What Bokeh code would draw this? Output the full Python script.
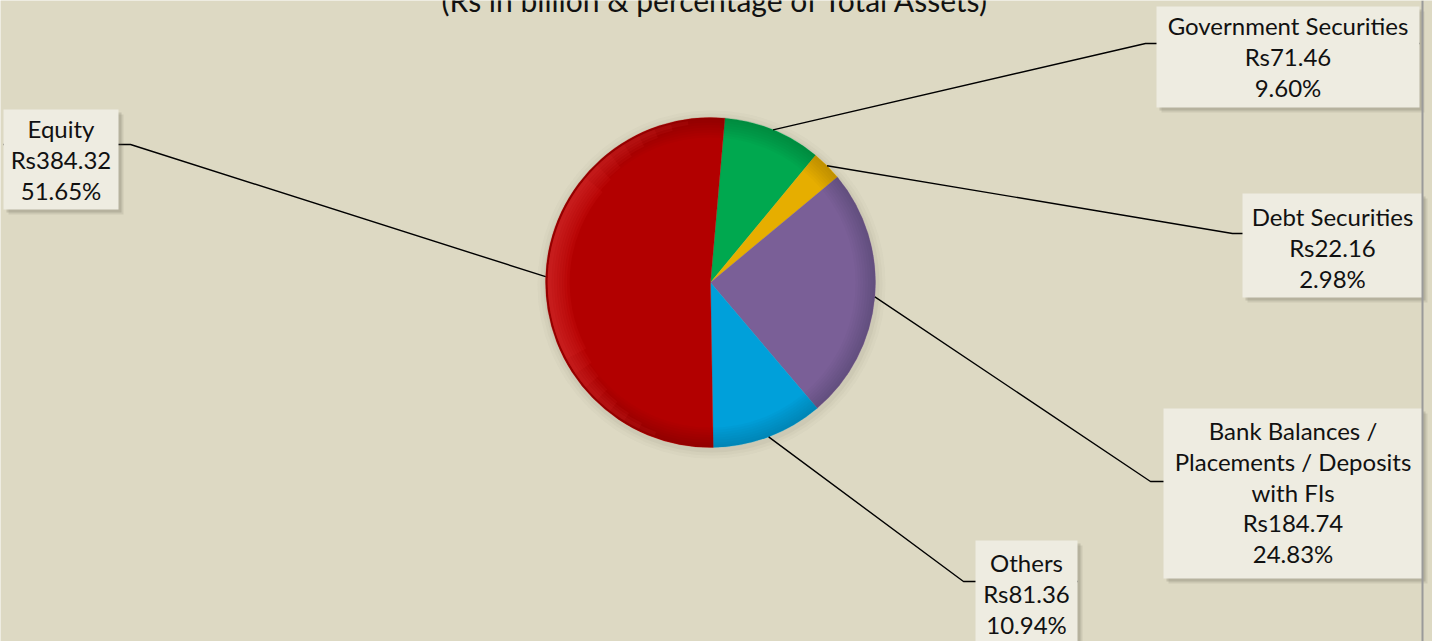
import numpy as np
from bokeh.plotting import figure
from bokeh.models import Range1d
from bokeh.embed import file_html
from bokeh.resources import INLINE
from bokeh.core.properties import value

# ---------------- data ----------------
title_text = "(Rs in billion & percentage of Total Assets)"
categories = ["Equity", "Government Securities", "Debt Securities",
              "Bank Balances / Placements / Deposits with FIs", "Others"]
label_lines = [["Equity"], ["Government Securities"], ["Debt Securities"],
               ["Bank Balances /", "Placements / Deposits", "with FIs"], ["Others"]]
amounts = [384.32, 71.46, 22.16, 184.74, 81.36]      # Rs billion
percents = [51.65, 9.60, 2.98, 24.83, 10.94]          # % of total assets
colors = ["#B20000", "#00A84F", "#E6AE00", "#7A5F97", "#00A0DA"]
draw_order = [1, 2, 3, 4, 0]   # clockwise from the top, starting with Government Securities

# ---------------- layout (reference pixel coords, y downward) ----------------
W, H = 1432, 641
FONT = "Lato"
FS = "24px"
LINE_STEP = 30.8
cx, cy, R = 710, 282, 165
start_cw = 5.0   # degrees clockwise from 12 o'clock

# box: left, right, top, bottom, first text line y, knee x, knee y
boxes = {
    0: (3, 118, 109, 209, 128, 130, 144),
    1: (1156, 1419, 6, 107, 25, 1145, 43),
    2: (1242, 1422, 193, 297, 216, 1232, 233),
    3: (1163, 1422, 408, 578, 430, 1150, 481),
    4: (975, 1077, 540, 660, 562, 963, 581),
}

def Y(y):
    return H - y

p = figure(width=W, height=H, x_range=Range1d(0, W), y_range=Range1d(0, H),
           output_backend="svg", toolbar_location=None, min_border=0)
p.axis.visible = False
p.grid.visible = False
p.outline_line_color = None
p.background_fill_color = "#DDD9C3"
p.border_fill_color = "#DDD9C3"

# ---------------- pie ----------------
vals = np.array(amounts, dtype=float)
frac = vals / vals.sum()
c0 = {}
c1 = {}
acc = start_cw
for i in draw_order:
    c0[i] = acc
    acc += frac[i] * 360.0
    c1[i] = acc

# soft shadow around the pie
for k, a in [(9, 0.03), (6, 0.04), (3, 0.06)]:
    p.circle(x=[cx + 1], y=[Y(cy + 2)], radius=R + k, fill_color="#6d6650",
             fill_alpha=a, line_color=None)

for i in draw_order:
    sa = np.radians(90 - c1[i])
    ea = np.radians(90 - c0[i])
    p.wedge(x=[cx], y=[Y(cy)], radius=R, start_angle=sa, end_angle=ea,
            fill_color=colors[i], line_color=colors[i], line_alpha=0.5, line_width=0.5)

# rim darkening (bevel), full ring so there are no angular seams
for k in range(8):
    p.annulus(x=[cx], y=[Y(cy)], inner_radius=R - 2.5 * k - 2.5, outer_radius=R,
              fill_color="black", fill_alpha=0.018, line_color=None)
# bright red highlight band on the left rim (red slice only covers the left half)
for k in range(8):
    p.annular_wedge(x=[cx], y=[Y(cy)], inner_radius=R - 6 - 2.6 * k, outer_radius=R - 2,
                    start_angle=np.radians(98 + 6 * k), end_angle=np.radians(250 - 6 * k),
                    fill_color="#FF3A3A", fill_alpha=0.08, line_color=None)

# ---------------- leader lines & labels ----------------
xs, ys = [], []
for i in range(len(categories)):
    l, r, t, b, fy, kx, ky = boxes[i]
    mid = np.radians((c0[i] + c1[i]) / 2.0)
    ax = cx + R * np.sin(mid)
    ay = cy - R * np.cos(mid)
    attach_x = r if kx < l else l
    xs.append([ax, kx, attach_x])
    ys.append([Y(ay), Y(ky), Y(ky)])
p.multi_line(xs=xs, ys=ys, line_color="#000000", line_width=1.4)

for i in range(len(categories)):
    l, r, t, b, fy, kx, ky = boxes[i]
    # box shadow
    for off, a in [(5, 0.12), (3, 0.18)]:
        p.quad(left=[l + off], right=[r + off], top=[Y(t + off)], bottom=[Y(b + off)],
               fill_color="#555040", fill_alpha=a, line_color=None)
    p.quad(left=[l], right=[r], top=[Y(t)], bottom=[Y(b)],
           fill_color="#EEECE1", line_color=None)
    lines = label_lines[i] + ["Rs%.2f" % amounts[i], "%.2f%%" % percents[i]]
    tx = [(l + r) / 2.0] * len(lines)
    ty = [Y(fy + LINE_STEP * j) for j in range(len(lines))]
    p.text(x=tx, y=ty, text=lines, text_align="center", text_baseline="middle",
           text_font=value(FONT), text_font_size=FS, text_color="#111111")

# chart frame edge on the right
p.segment(x0=[1422], y0=[0], x1=[1422], y1=[H], line_color="#9A9A9A", line_width=2)

# title (its upper part is cut off at the top edge in the reference)
p.text(x=[715], y=[Y(-1)], text=[title_text], text_align="center",
       text_baseline="middle", text_font=value(FONT), text_font_size="30px",
       text_color="#111111")

open("out.html", "w").write(file_html(p, INLINE))
